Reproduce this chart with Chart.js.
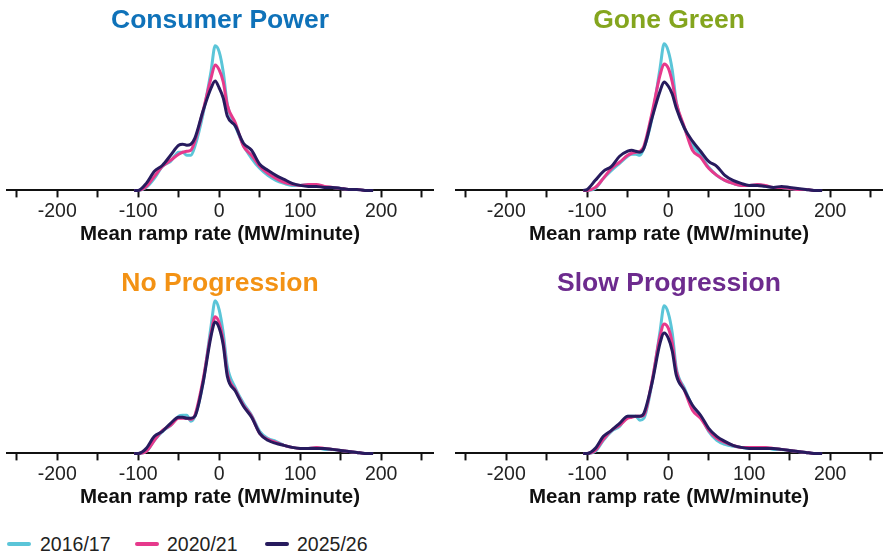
<!DOCTYPE html>
<html>
<head>
<meta charset="utf-8">
<script src="https://cdn.jsdelivr.net/npm/chart.js@4.4.1/dist/chart.umd.min.js"></script>
<style>
  html, body { margin: 0; padding: 0; background: #fff; }
  body { width: 886px; height: 555px; position: relative; overflow: hidden; font-family: "Liberation Sans", Arial, sans-serif; }
  .panel { position: absolute; width: 443px; height: 250px; }
  .legend { position: absolute; top: 532px; left: 0; width: 886px; height: 24px; }
  .lg-line { position: absolute; top: 10px; width: 24px; height: 4px; border-radius: 2px; }
  .lg-text { position: absolute; top: 0; font-size: 19.5px; line-height: 24px; color: #222; }
</style>
</head>
<body>
<div class="panel" style="left:0;top:0"><canvas id="c1"></canvas></div>
<div class="panel" style="left:443px;top:0"><canvas id="c2"></canvas></div>
<div class="panel" style="left:0;top:263px"><canvas id="c3"></canvas></div>
<div class="panel" style="left:443px;top:263px"><canvas id="c4"></canvas></div>
<div class="legend" id="legend"></div>
<script>
// ---- Data ----
const seriesNames = ['2016/17', '2020/21', '2025/26'];
const panelTitles = ['Consumer Power', 'Gone Green', 'No Progression', 'Slow Progression'];
const axisTitle = 'Mean ramp rate (MW/minute)';
const rampRates = [-105,-100,-90,-80,-70,-60,-50,-45,-40,-35,-30,-20,-10,-5,0,5,10,20,30,40,50,60,70,80,90,100,110,120,130,140,150,160,170,180,190];

const consumerPower2016 = [0,0,3,12,24,29,38,38,35,35,44,76,119,144,138,118,86,64,45,32,22,15,10,7,5,5,6,5,3.5,3,2,1,1,0,0];
const consumerPower2020 = [0,0,4,14,24,30,36,38,39,40,49,79,112,125,120,108,85,67,44,35,24,17,12,8,6,5,6,6,4,3,2,1,1,0,0];
const consumerPower2025 = [0,0,7,19,25,35,45,46,45,46,52,79,102,109,102,92,74,64,47,40,26,20,15,11,7,5,4,4,3,3,2,1,1,0,0];

const goneGreen2016 = [0,0,2,12,20,27,34,36,36,35,42,72,122,146,139,120,88,62,45,35,23,15,10,7,5,5,6,4,3,3,2,1,1,0,0];
const goneGreen2020 = [0,0,3,12,22,28,35,37,38,39,44,77,115,126,122,108,87,63,40,33,22,15,10,7,5,5,6,5,3,3,2,1,1,0,0];
const goneGreen2025 = [0,1,10,19,24,34,39,40,39,38,42,72,99,108,104,96,82,62,49,39,29,24,15,10,7,5,5,4,3,4,3,2,1,0,0];

const noProgression2016 = [0,0,2,13,22,28,37,38,38,32,37,70,127,152,143,120,87,65,50,38,22,15,12,8,6,5,5,6,4,4,3,2,1,0,0];
const noProgression2020 = [0,0,2,13,23,28,35,35,35,34,38,73,120,136,130,112,80,63,48,37,20,14,11,8,6,5,5,6,5,4,3,2,1,0,0];
const noProgression2025 = [0,0,5,17,22,30,36,36,35,35,37,70,117,131,125,108,77,62,47,36,20,13,10,8,6,5,5,5,5,4,3,2,1,0,0];

const slowProgression2016 = [0,0,2,13,22,27,37,37,37,33,35,70,122,147,140,120,85,65,47,37,22,13,9,7,6,5,5,6,4,4,3,2,1,0,0];
const slowProgression2020 = [0,0,3,14,23,28,35,36,37,37,38,72,117,129,125,110,82,63,43,35,23,15,11,8,6,6,6,6,5,4,3,2,1,0,0];
const slowProgression2025 = [0,0,5,17,23,30,37,37,37,37,40,70,110,120,115,102,78,63,48,38,25,17,12,8,6,5,5,5,5,4,3,2,1,0,0];

// ---- Styles ----
const seriesColors = ['#5bc5d8', '#e6398c', '#271b5e'];
const titleColors = ['#0f72b9', '#84a51e', '#f39214', '#6d2b8e'];
const FONT = '"Liberation Sans", Arial, sans-serif';

const panelData = [
  [consumerPower2016, consumerPower2020, consumerPower2025],
  [goneGreen2016, goneGreen2020, goneGreen2025],
  [noProgression2016, noProgression2020, noProgression2025],
  [slowProgression2016, slowProgression2020, slowProgression2025]
];
const pads = [
  {left: 7, right: 10}, {left: 13, right: 4},
  {left: 7, right: 10}, {left: 13, right: 4}
];

function makeChart(idx) {
  const datasets = panelData[idx].map((vals, s) => ({
    label: seriesNames[s],
    data: rampRates.map((x, i) => ({x: x, y: vals[i]})),
    borderColor: seriesColors[s],
    backgroundColor: seriesColors[s],
    borderWidth: 3,
    pointRadius: 0,
    fill: false,
    cubicInterpolationMode: 'monotone',
    clip: false,
    order: 3 - s
  }));
  new Chart(document.getElementById('c' + (idx + 1)), {
    type: 'line',
    data: { datasets },
    options: {
      responsive: true,
      maintainAspectRatio: false,
      animation: false,
      events: [],
      layout: { padding: { left: pads[idx].left, right: pads[idx].right, top: 0, bottom: 3.6 } },
      plugins: {
        legend: { display: false },
        tooltip: { enabled: false },
        title: {
          display: true,
          text: panelTitles[idx],
          color: titleColors[idx],
          font: { family: FONT, size: 26.5, weight: 'bold' },
          padding: { top: 5, bottom: 3 }
        }
      },
      scales: {
        x: {
          type: 'linear',
          min: -262,
          max: 264,
          ticks: {
            stepSize: 50,
            includeBounds: false,
            autoSkip: false,
            maxRotation: 0,
            padding: 3,
            color: '#222',
            font: { family: FONT, size: 19.5 },
            callback: (v) => (v % 100 === 0 ? String(v) : '')
          },
          grid: {
            drawOnChartArea: false,
            drawTicks: true,
            tickLength: 7,
            tickWidth: 2,
            tickColor: '#111'
          },
          border: { display: true, color: '#111', width: 2 },
          title: {
            display: true,
            text: axisTitle,
            color: '#111',
            font: { family: FONT, size: 20.5, weight: 'bold' },
            padding: { top: -5, bottom: 0 }
          }
        },
        y: { display: false, min: 0, max: 150 }
      }
    }
  });
}
for (let i = 0; i < 4; i++) makeChart(i);

// ---- Legend ----
const legendPos = [{line: 7, text: 40}, {line: 135, text: 167}, {line: 265, text: 297}];
const lg = document.getElementById('legend');
seriesNames.forEach((name, s) => {
  const ln = document.createElement('span');
  ln.className = 'lg-line';
  ln.style.left = legendPos[s].line + 'px';
  ln.style.background = seriesColors[s];
  lg.appendChild(ln);
  const tx = document.createElement('span');
  tx.className = 'lg-text';
  tx.style.left = legendPos[s].text + 'px';
  tx.textContent = name;
  lg.appendChild(tx);
});
</script>
</body>
</html>
